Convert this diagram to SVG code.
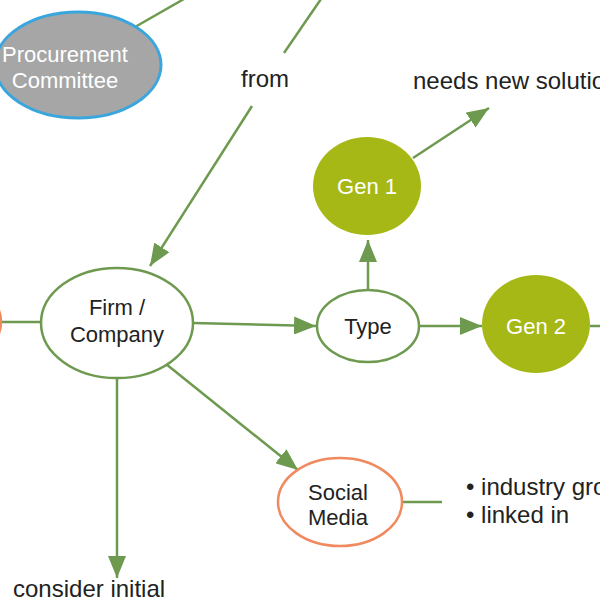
<svg xmlns="http://www.w3.org/2000/svg" width="600" height="600" viewBox="0 0 600 600">
<style>
text{font-family:"Liberation Sans",Arial,Helvetica,sans-serif;font-size:22px;fill:#222;}
.f{font-size:24px;}
.c{text-anchor:middle;}
.w{fill:#fff;}
.ln{stroke:#6e9a50;stroke-width:2.5;fill:none;}
.arr{marker-end:url(#ah);}
.gn{fill:#fff;stroke:#6e9a50;stroke-width:2.5;}
.or{fill:#fff;stroke:#f0895e;stroke-width:2.5;}
.gen{fill:#a6b816;}
</style>
<defs>
<marker id="ah" markerUnits="userSpaceOnUse" markerWidth="22" markerHeight="18" refX="22" refY="9" orient="auto">
<path d="M0,0 L22,9 L0,18 z" fill="#6e9a50"/>
</marker>
</defs>
<g id="connectors">
<line class="ln" x1="135" y1="27" x2="184" y2="-1"/>
<line class="ln" x1="321" y1="-1" x2="284" y2="53"/>
<line class="ln arr" x1="252" y1="106" x2="150" y2="266"/>
<line class="ln" x1="-2" y1="322" x2="41" y2="322"/>
<line class="ln arr" x1="193" y1="323" x2="316" y2="326"/>
<line class="ln arr" x1="368" y1="290" x2="368" y2="240"/>
<line class="ln arr" x1="413" y1="158" x2="489" y2="108"/>
<line class="ln arr" x1="419" y1="326" x2="482" y2="326"/>
<line class="ln" x1="590" y1="326" x2="602" y2="326"/>
<line class="ln arr" x1="166" y1="364" x2="298" y2="470"/>
<line class="ln arr" x1="117" y1="378" x2="117" y2="578"/>
<line class="ln" x1="402" y1="502" x2="442" y2="502"/>
</g>
<g id="procurement">
<ellipse cx="78" cy="65" rx="83" ry="53" fill="#a6a6a6" stroke="#3aa6de" stroke-width="3"/>
<text class="c w" x="65" y="62">Procurement</text>
<text class="c w" x="65" y="88">Committee</text>
</g>
<g id="from-label"><text class="c f" x="265" y="87">from</text></g>
<g id="left-node"><ellipse class="or" cx="-61" cy="322" rx="62" ry="44"/></g>
<g id="firm">
<ellipse class="gn" cx="117" cy="323" rx="76" ry="55"/>
<text class="c" x="117" y="315">Firm /</text>
<text class="c" x="117" y="342">Company</text>
</g>
<g id="type">
<ellipse class="gn" cx="368" cy="326" rx="51" ry="36"/>
<text class="c" x="368" y="334">Type</text>
</g>
<g id="gen1">
<ellipse class="gen" cx="367" cy="186" rx="54" ry="49"/>
<text class="c w" x="367" y="194">Gen 1</text>
</g>
<g id="gen2">
<ellipse class="gen" cx="536" cy="324" rx="54" ry="49"/>
<text class="c w" x="536" y="334">Gen 2</text>
</g>
<g id="needs"><text class="f" x="413" y="89">needs new solution</text></g>
<g id="social">
<ellipse class="or" cx="340" cy="502" rx="62" ry="44"/>
<text class="c" x="338" y="500">Social</text>
<text class="c" x="338" y="525">Media</text>
</g>
<g id="social-notes">
<text class="f" x="466" y="495">• industry groups</text>
<text class="f" x="466" y="523">• linked in</text>
</g>
<g id="consider"><text class="f" x="13" y="597">consider initial</text></g>
</svg>
